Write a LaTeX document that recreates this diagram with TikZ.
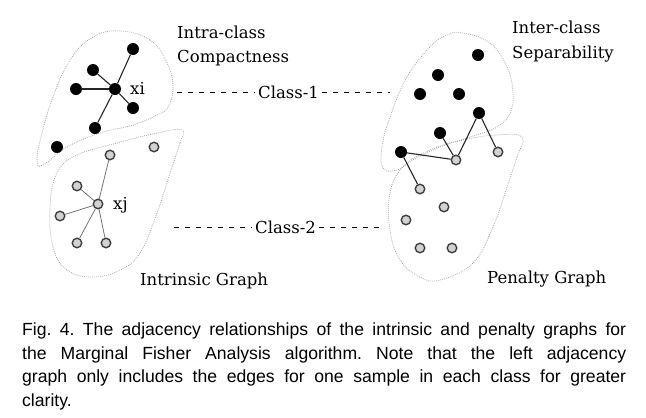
\documentclass[tikz,border=0pt]{standalone}
\usepackage{fontspec}
\setmainfont{DejaVu Serif}
\newfontfamily\capfont{Liberation Sans}
\usetikzlibrary{positioning}
\frenchspacing

\begin{document}
\begin{tikzpicture}[x=1pt,y=-1pt,
    dark/.style={circle,fill=black,inner sep=0pt,minimum size=12pt},
    hollow/.style={circle,draw=black!75,fill=gray!35,line width=1.4pt,inner sep=0pt,minimum size=9.5pt},
    blob/.style={draw=gray!70,line width=0.8pt,dash pattern=on 0.8pt off 1.2pt},
    link/.style={line width=1.1pt,black!85},
    faint link/.style={line width=0.8pt,black!55},
    lbl/.style={font=\fontsize{16.5}{19}\selectfont,inner sep=0pt},
    guide/.style={line width=0.8pt,dash pattern=on 5pt off 6pt}]
\useasboundingbox (0,0) rectangle (646,418);

\draw[blob] plot[smooth cycle,tension=0.7] coordinates {(120,31) (150,40) (167,63) (173,87) (168,107) (157,115) (133,125) (100,133) (67,147) (43,165) (37,160) (42,133) (53,97) (70,60) (93,37)};
\draw[blob] plot[smooth cycle,tension=0.7] coordinates {(182,130) (180,143) (170,173) (157,213) (140,253) (120,270) (93,277) (67,270) (53,247) (50,207) (57,173) (77,155) (117,143) (157,133)};
\draw[blob] plot[smooth cycle,tension=0.7] coordinates {(463,33) (490,43) (507,67) (513,93) (510,113) (497,127) (470,137) (440,147) (413,160) (397,170) (383,168) (382,147) (390,117) (407,77) (430,47) (447,35)};
\draw[blob] plot[smooth cycle,tension=0.7] coordinates {(522,137) (517,157) (507,187) (493,227) (473,263) (440,280) (420,277) (400,260) (390,230) (390,193) (403,167) (430,150) (463,140) (497,135)};

\node[dark] (xi) at (115,89) {};
\node[dark] (i1) at (133,49) {};
\node[dark] (i2) at (93,70) {};
\node[dark] (i3) at (76,89) {};
\node[dark] (i4) at (133,108) {};
\node[dark] (i5) at (95,128) {};
\node[dark] (i6) at (57,147) {};
\node[lbl,anchor=base west] (xil) at (130,94) {xi};
\draw[link] (xi) -- (i1);
\draw[link] (xi) -- (i2);
\draw[line width=1.8pt,black!85] (xi) -- (i3);
\draw[link] (xi) -- (i4);
\draw[link] (xi) -- (i5);

\node[hollow] (xj) at (98,204) {};
\node[hollow] (j1) at (154,147) {};
\node[hollow] (j2) at (110,155) {};
\node[hollow] (j3) at (77,186) {};
\node[hollow] (j4) at (60,216) {};
\node[hollow] (j5) at (77,243) {};
\node[hollow] (j6) at (106,243) {};
\node[lbl,anchor=base west] (xjl) at (113,209) {xj};
\foreach \n in {j2,j3,j4,j5,j6}
  \draw[faint link] (xj) -- (\n);

\node[dark] (p1) at (478,55) {};
\node[dark] (p2) at (438,75) {};
\node[dark] (p3) at (420,94) {};
\node[dark] (p4) at (459,94) {};
\node[dark] (p5) at (479,113) {};
\node[dark] (p6) at (440,133) {};
\node[dark] (p7) at (401,152) {};
\node[hollow] (q1) at (456,160) {};
\node[hollow] (q2) at (498,152) {};
\node[hollow] (q3) at (420,189) {};
\node[hollow] (q4) at (444,207) {};
\node[hollow] (q5) at (406,220) {};
\node[hollow] (q6) at (420,248) {};
\node[hollow] (q7) at (452,248) {};
\draw[link] (p7) -- (q1) -- (p5) -- (q2);
\draw[link] (p6) -- (q1);
\draw[link] (p7) -- (q3);

\node[lbl,anchor=base west] (intra) at (177,38) {Intra-class};
\node[lbl,anchor=base west] (compact) at (177,62) {Compactness};
\node[lbl,anchor=base west] (inter) at (512,33) {Inter-class};
\node[lbl,anchor=base west] (separ) at (512,58) {Separability};
\node[lbl,anchor=base west] (intr) at (140,285) {Intrinsic Graph};
\node[lbl,anchor=base west] (pen) at (487,283) {Penalty Graph};

\node[lbl,anchor=base west,inner xsep=3pt] (c1) at (255,98) {Class-1};
\node[lbl,anchor=base west,inner xsep=3pt] (c2) at (252,233) {Class-2};
\coordinate (c1a) at (177,92);
\coordinate (c1b) at (390,92);
\coordinate (c2a) at (174,227);
\coordinate (c2b) at (382,227);
\draw[guide] (c1a) -- (c1a -| c1.west);
\draw[guide] (c1.east |- c1b) -- (c1b);
\draw[guide] (c2a) -- (c2a -| c2.west);
\draw[guide] (c2.east |- c2b) -- (c2b);

\node[anchor=north west,inner sep=0pt,text width=604pt,align=justify,
  font=\capfont\fontsize{17.6}{23.5}\selectfont] (cap) at (22,323)
  {Fig. 4. The adjacency relationships of the intrinsic and penalty graphs for\linebreak
   the Marginal Fisher Analysis algorithm. Note that the left adjacency\linebreak
   graph only includes the edges for one sample in each class for greater\linebreak
   clarity.};
\end{tikzpicture}
\end{document}
